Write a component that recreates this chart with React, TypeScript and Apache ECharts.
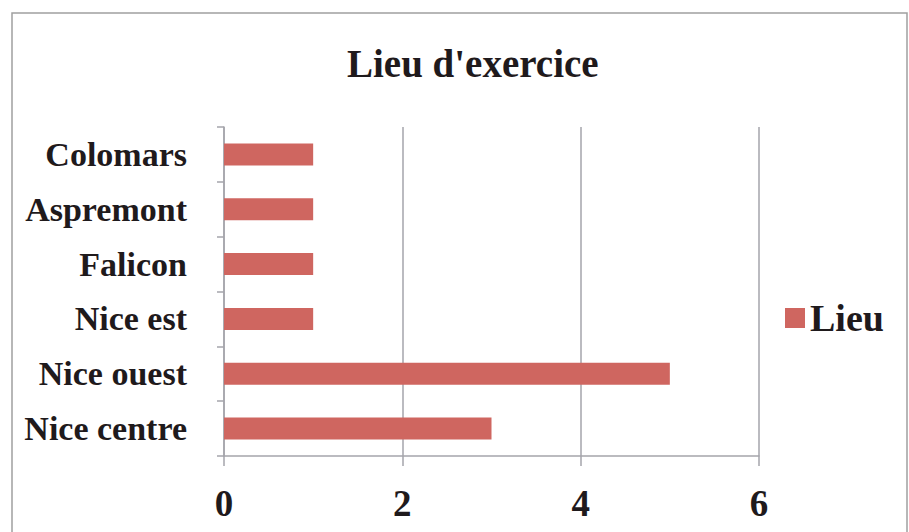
import React, { useEffect, useRef } from "react";
import * as echarts from "echarts";

const categories = ["Nice centre", "Nice ouest", "Nice est", "Falicon", "Aspremont", "Colomars"];
const lieuValues = [3, 5, 1, 1, 1, 1];
const seriesName = "Lieu";
const titleText = "Lieu d'exercice";

const FONT = "'Liberation Serif', 'DejaVu Serif', serif";
const GRAY = "#A5A5AB";
const BAR = "#CF6660";
const TEXT = "#1f1a1c";

export default function App() {
  const ref = useRef<HTMLDivElement>(null);
  useEffect(() => {
    document.body.style.margin = "0";
    const chart = echarts.init(ref.current!, null, { renderer: "svg" });
    chart.setOption({
      animation: false,
      backgroundColor: "#ffffff",
      title: {
        text: titleText,
        left: 342,
        top: 39,
        textStyle: { fontFamily: FONT, fontSize: 39, fontWeight: "bold", color: TEXT },
      },
      legend: {
        data: [seriesName],
        left: 780,
        top: 294,
        orient: "vertical",
        itemWidth: 20,
        itemHeight: 20,
        icon: "rect",
        itemGap: 8,
        textStyle: { fontFamily: FONT, fontSize: 38, fontWeight: "bold", color: TEXT },
      },
      grid: { left: 224, right: 150, top: 127, bottom: 76, containLabel: false },
      xAxis: {
        type: "value",
        min: 0,
        max: 6,
        interval: 2,
        axisLine: { show: true, lineStyle: { color: GRAY, width: 1.5 } },
        axisTick: { show: true, length: 10, lineStyle: { color: GRAY, width: 1.5 } },
        splitLine: { show: true, lineStyle: { color: GRAY, width: 1.5 } },
        axisLabel: {
          margin: 29,
          fontFamily: FONT,
          fontSize: 37,
          fontWeight: "bold",
          color: TEXT,
        },
      },
      yAxis: {
        type: "category",
        data: categories,
        axisLine: { show: true, lineStyle: { color: GRAY, width: 1.5 } },
        axisTick: { show: true, length: 7, lineStyle: { color: GRAY, width: 1.5 } },
        axisLabel: {
          margin: 37,
          fontFamily: FONT,
          fontSize: 34,
          fontWeight: "bold",
          color: TEXT,
        },
      },
      series: [
        {
          name: seriesName,
          type: "bar",
          data: lieuValues,
          barWidth: 22,
          itemStyle: { color: BAR },
        },
      ],
      graphic: [
        {
          type: "rect",
          shape: { x: 12, y: 13, width: 895, height: 540 },
          style: { fill: "none", stroke: "#A0A0A0", lineWidth: 1.5 },
          silent: true,
        },
      ],
    });
    return () => chart.dispose();
  }, []);
  return <div ref={ref} style={{ width: 909, height: 532 }} />;
}
